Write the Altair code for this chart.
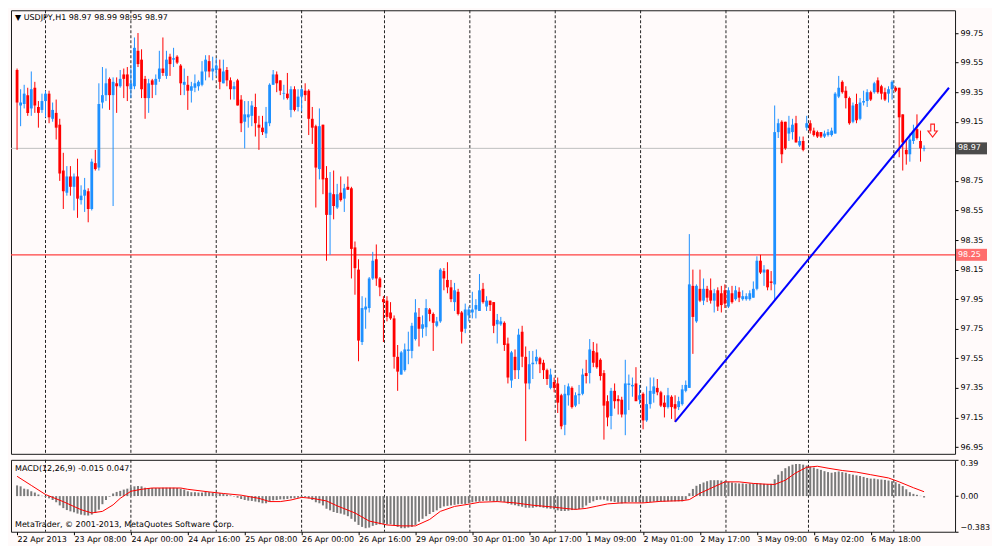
import altair as alt
import pandas as pd
import numpy as np

title_text = "▼ USDJPY,H1  98.97 98.99 98.95 98.97"
macd_text = "MACD(12,26,9) -0.015 0.047"
copyright_text = "MetaTrader, © 2001-2013, MetaQuotes Software Corp."

bar_open = [
    99.50, 99.26, 99.27, 99.33, 99.24, 99.38, 99.25, 99.23, 99.29, 99.34,
    99.17, 99.21, 99.13, 98.82, 98.67, 98.78, 98.71, 98.78, 98.62, 98.65,
    98.68, 98.56, 98.87, 98.84, 99.28, 99.33, 99.44, 99.33, 99.41, 99.39,
    99.47, 99.47, 99.37, 99.39, 99.63, 99.57, 99.44, 99.31, 99.43, 99.40,
    99.44, 99.51, 99.46, 99.59, 99.57, 99.59, 99.53, 99.40, 99.40, 99.36,
    99.38, 99.39, 99.40, 99.49, 99.56, 99.49, 99.50, 99.51, 99.41, 99.50,
    99.43, 99.37, 99.43, 99.30, 99.15, 99.18, 99.19, 99.25, 99.13, 99.11,
    99.07, 99.14, 99.40, 99.47, 99.43, 99.34, 99.34, 99.23, 99.37, 99.25,
    99.32, 99.36, 99.36, 99.17, 99.12, 98.83, 99.13, 98.77, 98.52, 98.66,
    98.57, 98.67, 98.63, 98.71, 98.70, 98.30, 98.15, 97.66, 97.88, 97.89,
    98.09, 98.22, 98.09, 97.95, 97.94, 97.86, 97.82, 97.56, 97.44, 97.47,
    97.60, 97.60, 97.68, 97.83, 97.75, 97.76, 97.88, 97.85, 97.77, 97.80,
    98.14, 98.08, 98.03, 97.93, 98.00, 97.86, 97.75, 97.84, 97.86, 97.88,
    97.87, 98.02, 97.90, 97.94, 97.93, 97.78, 97.78, 97.79, 97.65, 97.40,
    97.56, 97.47, 97.73, 97.56, 97.38, 97.51, 97.53, 97.55, 97.52, 97.47,
    97.35, 97.39, 97.38, 97.30, 97.10, 97.30, 97.35, 97.23, 97.30, 97.31,
    97.45, 97.45, 97.60, 97.59, 97.54, 97.45, 97.26, 97.16, 97.33, 97.275,
    97.27, 97.17, 97.37, 97.36, 97.38, 97.27, 97.31, 97.13, 97.24, 97.31,
    97.35, 97.32, 97.25, 97.22, 97.29, 97.24, 97.22, 97.24, 97.33, 97.35,
    98.04, 97.80, 98.02, 97.94, 98.02, 98.01, 97.94, 98.01, 97.99, 98.01,
    97.90, 97.99, 97.95, 98.00, 97.95, 97.95, 97.95, 97.96, 98.02, 98.21,
    98.13, 98.15, 98.07, 98.05, 99.08, 99.15, 99.15, 99.07, 99.08, 99.14,
    98.99, 99.02, 99.11, 99.14, 99.09, 99.08, 99.08, 99.05, 99.06, 99.06,
    99.07, 99.32, 99.42, 99.36, 99.31, 99.15, 99.27, 99.17, 99.28, 99.29,
    99.35, 99.35, 99.43, 99.39, 99.35, 99.34, 99.37, 99.38, 99.38, 99.20,
    98.96, 98.93, 99.02, 99.10, 99.02, 98.97,
]
bar_high = [
    99.51, 99.37, 99.40, 99.38, 99.49, 99.42, 99.29, 99.34, 99.36, 99.36,
    99.28, 99.30, 99.17, 98.94, 98.85, 98.85, 98.80, 98.90, 98.72, 98.77,
    98.70, 98.90, 98.96, 99.41, 99.52, 99.51, 99.45, 99.45, 99.45, 99.50,
    99.51, 99.52, 99.51, 99.72, 99.75, 99.64, 99.46, 99.44, 99.44, 99.47,
    99.63, 99.72, 99.63, 99.61, 99.65, 99.60, 99.54, 99.51, 99.46, 99.42,
    99.47, 99.43, 99.56, 99.60, 99.60, 99.59, 99.58, 99.57, 99.57, 99.52,
    99.45, 99.42, 99.44, 99.33, 99.29, 99.29, 99.29, 99.34, 99.19, 99.19,
    99.25, 99.41, 99.50, 99.49, 99.43, 99.40, 99.48, 99.39, 99.39, 99.37,
    99.38, 99.41, 99.37, 99.25, 99.13, 99.24, 99.13, 98.85, 98.81, 98.82,
    98.73, 98.78, 98.73, 98.78, 98.71, 98.34, 98.22, 97.97, 97.96, 98.10,
    98.27, 98.32, 98.10, 97.97, 97.97, 97.93, 97.84, 97.64, 97.60, 97.65,
    97.73, 97.79, 97.95, 97.89, 97.84, 97.95, 97.89, 97.86, 97.83, 98.16,
    98.16, 98.20, 98.08, 98.06, 98.02, 97.87, 97.92, 97.90, 98.00, 97.95,
    98.12, 98.06, 97.97, 97.94, 97.93, 97.85, 97.83, 97.80, 97.69, 97.60,
    97.61, 97.75, 97.77, 97.63, 97.60, 97.60, 97.61, 97.56, 97.54, 97.48,
    97.48, 97.42, 97.42, 97.31, 97.37, 97.38, 97.36, 97.32, 97.37, 97.48,
    97.54, 97.68, 97.66, 97.65, 97.55, 97.47, 97.30, 97.35, 97.38, 97.30,
    97.29, 97.54, 97.44, 97.42, 97.49, 97.37, 97.32, 97.36, 97.42, 97.42,
    97.41, 97.33, 97.30, 97.35, 97.30, 97.30, 97.29, 97.37, 97.40, 98.39,
    98.15, 98.05, 98.15, 98.09, 98.04, 98.09, 98.02, 98.03, 98.04, 98.05,
    98.03, 98.04, 98.04, 98.03, 98.01, 97.99, 98.01, 98.07, 98.24, 98.25,
    98.18, 98.15, 98.14, 99.26, 99.17, 99.16, 99.15, 99.19, 99.17, 99.19,
    99.05, 99.05, 99.19, 99.16, 99.11, 99.09, 99.08, 99.09, 99.10, 99.11,
    99.35, 99.46, 99.43, 99.39, 99.32, 99.28, 99.34, 99.31, 99.36, 99.37,
    99.36, 99.42, 99.45, 99.40, 99.38, 99.39, 99.43, 99.39, 99.38, 99.20,
    99.03, 99.07, 99.13, 99.20, 99.09, 98.99,
]
bar_low = [
    98.96, 99.12, 99.24, 99.19, 99.19, 99.21, 99.11, 99.21, 99.18, 99.14,
    99.15, 99.03, 98.75, 98.56, 98.65, 98.65, 98.55, 98.50, 98.59, 98.54,
    98.47, 98.55, 98.82, 98.82, 99.24, 99.29, 99.23, 98.58, 99.21, 99.38,
    99.31, 99.29, 99.31, 99.37, 99.52, 99.31, 99.17, 99.21, 99.31, 99.33,
    99.42, 99.46, 99.44, 99.46, 99.52, 99.54, 99.33, 99.33, 99.23, 99.28,
    99.35, 99.36, 99.39, 99.43, 99.45, 99.43, 99.46, 99.37, 99.41, 99.39,
    99.30, 99.30, 99.26, 99.08, 98.97, 99.11, 99.12, 99.05, 98.96, 99.06,
    99.04, 99.12, 99.40, 99.35, 99.33, 99.30, 99.30, 99.18, 99.22, 99.22,
    99.22, 99.29, 99.06, 99.00, 98.57, 98.76, 98.66, 98.21, 98.25, 98.49,
    98.56, 98.61, 98.54, 98.69, 98.09, 97.98, 97.53, 97.64, 97.75, 97.86,
    98.08, 98.04, 97.97, 97.66, 97.80, 97.81, 97.48, 97.33, 97.44, 97.46,
    97.51, 97.55, 97.67, 97.63, 97.69, 97.70, 97.80, 97.60, 97.76, 97.79,
    98.01, 97.99, 97.93, 97.87, 97.84, 97.65, 97.72, 97.80, 97.82, 97.82,
    97.87, 97.92, 97.87, 97.87, 97.72, 97.65, 97.77, 97.60, 97.38, 97.35,
    97.41, 97.41, 97.49, 96.99, 97.34, 97.41, 97.51, 97.45, 97.41, 97.37,
    97.34, 97.32, 97.18, 97.07, 97.03, 97.23, 97.21, 97.22, 97.24, 97.30,
    97.38, 97.38, 97.49, 97.48, 97.40, 97.00, 97.09, 97.07, 97.21, 97.17,
    97.15, 97.03, 97.20, 97.29, 97.26, 97.24, 97.07, 97.12, 97.21, 97.25,
    97.30, 97.22, 97.15, 97.21, 97.14, 97.12, 97.20, 97.23, 97.32, 97.35,
    97.58, 97.79, 97.93, 97.91, 97.93, 97.92, 97.86, 97.87, 97.86, 97.89,
    97.89, 97.92, 97.94, 97.93, 97.94, 97.94, 97.94, 97.96, 98.01, 98.12,
    98.04, 98.01, 98.01, 97.94, 99.04, 98.87, 98.96, 99.02, 99.03, 99.01,
    98.98, 98.95, 99.09, 99.07, 99.05, 99.04, 99.04, 99.04, 99.05, 99.05,
    99.07, 99.31, 99.34, 99.24, 99.13, 99.14, 99.14, 99.16, 99.26, 99.25,
    99.29, 99.34, 99.34, 99.30, 99.29, 99.28, 99.30, 99.35, 98.91, 98.82,
    98.86, 98.88, 99.00, 99.03, 98.88, 98.95,
]
bar_close = [
    99.28, 99.28, 99.34, 99.21, 99.37, 99.26, 99.21, 99.29, 99.34, 99.18,
    99.23, 99.11, 98.80, 98.68, 98.78, 98.71, 98.78, 98.63, 98.65, 98.69,
    98.56, 98.88, 98.83, 99.27, 99.33, 99.41, 99.33, 99.42, 99.39, 99.44,
    99.44, 99.39, 99.41, 99.65, 99.54, 99.37, 99.31, 99.41, 99.40, 99.44,
    99.51, 99.48, 99.57, 99.54, 99.58, 99.55, 99.41, 99.42, 99.36, 99.39,
    99.41, 99.42, 99.49, 99.57, 99.49, 99.51, 99.53, 99.42, 99.49, 99.43,
    99.37, 99.39, 99.26, 99.14, 99.20, 99.20, 99.26, 99.14, 99.11, 99.08,
    99.15, 99.40, 99.47, 99.41, 99.36, 99.345, 99.31, 99.37, 99.23, 99.32,
    99.37, 99.33, 99.17, 99.11, 98.84, 99.12, 98.76, 98.52, 98.67, 98.58,
    98.66, 98.62, 98.70, 98.69, 98.29, 98.16, 97.67, 97.89, 97.90, 98.09,
    98.21, 98.09, 98.03, 97.93, 97.83, 97.82, 97.56, 97.46, 97.59, 97.61,
    97.61, 97.77, 97.86, 97.75, 97.78, 97.89, 97.85, 97.79, 97.80, 98.15,
    98.09, 98.03, 97.95, 98.01, 97.85, 97.73, 97.88, 97.88, 97.88, 97.91,
    98.01, 97.93, 97.94, 97.91, 97.77, 97.81, 97.80, 97.64, 97.42, 97.59,
    97.47, 97.71, 97.56, 97.38, 97.51, 97.52, 97.56, 97.51, 97.47, 97.41,
    97.44, 97.35, 97.25, 97.09, 97.31, 97.36, 97.22, 97.30, 97.31, 97.44,
    97.43, 97.61, 97.52, 97.49, 97.43, 97.23, 97.15, 97.33, 97.26, 97.26,
    97.17, 97.38, 97.38, 97.37, 97.26, 97.30, 97.13, 97.24, 97.33, 97.36,
    97.32, 97.23, 97.22, 97.30, 97.22, 97.21, 97.26, 97.34, 97.37, 98.05,
    97.83, 98.04, 97.94, 98.02, 97.96, 97.94, 97.99, 97.90, 97.91, 97.92,
    98.01, 97.93, 98.01, 97.96, 97.97, 97.97, 97.99, 98.02, 98.21, 98.13,
    98.15, 98.03, 98.06, 99.08, 99.14, 98.93, 98.97, 99.11, 99.13, 99.01,
    99.02, 98.96, 99.14, 99.09, 99.06, 99.05, 99.05, 99.07, 99.08, 99.09,
    99.34, 99.38, 99.35, 99.31, 99.14, 99.26, 99.16, 99.28, 99.29, 99.35,
    99.30, 99.41, 99.35, 99.34, 99.30, 99.37, 99.42, 99.36, 99.18, 99.01,
    98.93, 99.03, 99.09, 99.04, 98.97, 98.97,
]

macd_hist = [
    0.115, 0.105, 0.08, 0.073, 0.052, 0.038, 0.017, 0.003, -0.01, -0.024,
    -0.042, -0.066, -0.10, -0.129, -0.15, -0.164, -0.174, -0.188, -0.199, -0.206,
    -0.209, -0.199, -0.181, -0.146, -0.087, -0.042, -0.007, 0.028, 0.045, 0.056,
    0.07, 0.08, 0.094, 0.105, 0.108, 0.105, 0.09, 0.087, 0.087, 0.087,
    0.087, 0.09, 0.09, 0.09, 0.09, 0.087, 0.08, 0.07, 0.052, 0.042,
    0.042, 0.038, 0.038, 0.045, 0.042, 0.035, 0.031, 0.031, 0.024, 0.017,
    0.007, -0.004, -0.017, -0.031, -0.042, -0.049, -0.052, -0.059, -0.066, -0.077,
    -0.077, -0.059, -0.045, -0.042, -0.035, -0.035, -0.031, -0.024, -0.024, -0.017,
    -0.01, -0.01, -0.024, -0.042, -0.066, -0.077, -0.10, -0.136, -0.153, -0.171,
    -0.181, -0.188, -0.199, -0.216, -0.244, -0.275, -0.31, -0.331, -0.345, -0.338,
    -0.32, -0.31, -0.303, -0.303, -0.303, -0.303, -0.314, -0.331, -0.345, -0.345,
    -0.338, -0.331, -0.31, -0.275, -0.244, -0.216, -0.192, -0.171, -0.153, -0.129,
    -0.111, -0.105, -0.10, -0.094, -0.087, -0.084, -0.084, -0.077, -0.066, -0.059,
    -0.059, -0.052, -0.049, -0.052, -0.059, -0.059, -0.056, -0.063, -0.08, -0.091,
    -0.098, -0.108, -0.115, -0.125, -0.125, -0.125, -0.118, -0.118, -0.125, -0.132,
    -0.136, -0.143, -0.153, -0.16, -0.16, -0.157, -0.15, -0.146, -0.139, -0.125,
    -0.101, -0.073, -0.056, -0.042, -0.038, -0.038, -0.049, -0.056, -0.063, -0.07,
    -0.08, -0.073, -0.063, -0.063, -0.066, -0.066, -0.07, -0.066, -0.063, -0.059,
    -0.059, -0.059, -0.059, -0.056, -0.056, -0.056, -0.056, -0.056, -0.038, 0.031,
    0.077, 0.111, 0.129, 0.146, 0.16, 0.171, 0.171, 0.171, 0.167, 0.16,
    0.153, 0.146, 0.139, 0.136, 0.136, 0.132, 0.136, 0.136, 0.139, 0.136,
    0.132, 0.129, 0.132, 0.181, 0.23, 0.268, 0.30, 0.321, 0.338, 0.345,
    0.345, 0.338, 0.328, 0.317, 0.307, 0.293, 0.282, 0.268, 0.258, 0.251,
    0.258, 0.265, 0.258, 0.251, 0.237, 0.23, 0.223, 0.216, 0.206, 0.195,
    0.188, 0.188, 0.181, 0.178, 0.174, 0.167, 0.16, 0.15, 0.132, 0.108,
    0.073, 0.042, 0.024, 0.014, 0.003, -0.015,
]

signal_bars = [0, 4, 8, 13, 18, 21, 24, 27, 29, 32, 35, 38, 46, 48, 54, 58, 63, 68,
               71, 74, 77, 80, 83, 87, 90, 95, 99, 104, 108, 112, 116, 119, 123, 127,
               130, 135, 140, 145, 150, 154, 157, 160, 163, 166, 170, 176, 181, 187,
               189, 192, 196, 199, 203, 207, 210, 213, 216, 219, 222, 225, 228, 232,
               236, 240, 245, 248, 252, 255]
signal_vals = [0.213, 0.115, 0.017, -0.06, -0.146, -0.181, -0.164, -0.094, -0.024,
               0.052, 0.073, 0.087, 0.087, 0.073, 0.045, 0.028, 0.01, -0.024,
               -0.059, -0.059, -0.042, -0.014, -0.024, -0.052, -0.105, -0.181,
               -0.268, -0.31, -0.32, -0.32, -0.251, -0.164, -0.111, -0.087,
               -0.066, -0.059, -0.073, -0.098, -0.115, -0.132, -0.143, -0.132,
               -0.108, -0.084, -0.073, -0.073, -0.056, -0.049, -0.038, 0.031,
               0.101, 0.153, 0.153, 0.136, 0.129, 0.125, 0.171, 0.251, 0.31,
               0.321, 0.30, 0.275, 0.258, 0.23, 0.195, 0.153, 0.09, 0.047]

grid_bars = [8, 32, 56, 80, 103.3, 127.3, 151.3, 175.3, 199.3, 222.5, 246.5]
tick_bars = [0, 16, 32, 48, 64, 80, 96, 112, 128, 144, 160, 176, 192, 208, 224, 240]
tick_labels = ["22 Apr 2013", "23 Apr 08:00", "24 Apr 00:00", "24 Apr 16:00",
               "25 Apr 08:00", "26 Apr 00:00", "26 Apr 16:00", "29 Apr 09:00",
               "30 Apr 01:00", "30 Apr 17:00", "1 May 09:00", "2 May 01:00",
               "2 May 17:00", "3 May 09:00", "6 May 02:00", "6 May 18:00"]
price_ticks = [96.95, 97.15, 97.35, 97.55, 97.75, 97.95, 98.15, 98.35, 98.55,
               98.75, 99.15, 99.35, 99.55, 99.75]
macd_ticks = [-0.383, 0.0, 0.39]
trend_bars = [185, 262]
trend_prices = [97.12, 99.38]
bid_price = 98.97
level_price = 98.25
arrow_bar = [257.4]
arrow_price = [99.09]

FONT = "DejaVu Sans"
W = 945
H1 = 444
H2 = 72
BG = "#FFFAFA"
ARROW_PATH = ("M -0.28 -1 L 0.28 -1 L 0.28 0.05 L 0.72 0.05 L 0 1 "
              "L -0.72 0.05 L -0.28 0.05 Z")

n = len(bar_close)
df = pd.DataFrame({"bar": np.arange(n), "o": bar_open[:n], "h": bar_high[:n],
                   "l": bar_low[:n], "c": bar_close[:n]})
df["dir"] = np.where(df["c"] >= df["o"], "up", "down")
eq = (df["c"] == df["o"]).astype(float) * 0.003
df["b_lo"] = df[["o", "c"]].min(axis=1) - eq
df["b_hi"] = df[["o", "c"]].max(axis=1) + eq

x_scale = alt.Scale(domain=[-0.3, 262.3], nice=False, zero=False)
price_scale = alt.Scale(domain=[96.904, 99.904], nice=False, zero=False)
macd_scale = alt.Scale(domain=[-0.383, 0.39], nice=False, zero=False)

price_axis = alt.Axis(orient="right", values=price_ticks, format=".2f", tickSize=3,
                      labelPadding=2, domain=False, title=None, grid=False)
tick_expr = ("[" + ",".join("'%s'" % s for s in tick_labels) + "][indexof(["
             + ",".join(str(b) for b in tick_bars) + "], datum.value)]")
x_axis = alt.Axis(values=tick_bars, labelExpr=tick_expr, labelAlign="left",
                  labelBaseline="top", tickSize=3, labelPadding=1, domain=False,
                  title=None, grid=False, labelFlush=False, labelOverlap=False)
macd_axis = alt.Axis(orient="right", values=macd_ticks,
                     labelExpr="datum.value == 0 ? '0.00' : format(datum.value, '.3~f')",
                     tickSize=3, labelPadding=2, domain=False, title=None, grid=False,
                     labelFlush=True)


def X(field):
    return alt.X(field, type="quantitative", scale=x_scale, axis=None)


def XM(field):
    return alt.X(field, type="quantitative", scale=x_scale, axis=x_axis)


def PY(field):
    return alt.Y(field, type="quantitative", scale=price_scale, axis=price_axis)


def MY(field):
    return alt.Y(field, type="quantitative", scale=macd_scale, axis=macd_axis)


col = alt.Color("dir:N", scale=alt.Scale(domain=["up", "down"],
                                         range=["#1E90FF", "#FF0000"]), legend=None)

grid_df = pd.DataFrame({"g": grid_bars})
grid_main = alt.Chart(grid_df).mark_rule(color="#222222", strokeDash=[3, 2],
                                         strokeWidth=1).encode(x=X("g"))
bid_line = alt.Chart(pd.DataFrame({"p": [bid_price]})).mark_rule(
    color="#C0C0C0", strokeWidth=1).encode(y=PY("p"))
red_line = alt.Chart(pd.DataFrame({"p": [level_price]})).mark_rule(
    color="#FF4040", strokeWidth=1.3).encode(y=PY("p"))
wicks = alt.Chart(df).mark_rule(strokeWidth=1).encode(x=X("bar"), y=PY("l"), y2="h",
                                                       color=col)
bodies = alt.Chart(df).mark_bar(size=2.8).encode(x=X("bar"), y=PY("b_lo"), y2="b_hi",
                                                  color=col)
trend = alt.Chart(pd.DataFrame({"tb": trend_bars, "tp": trend_prices})).mark_line(
    color="#0000FF", strokeWidth=2, clip=True).encode(x=X("tb"), y=PY("tp"))
arrow = alt.Chart(pd.DataFrame({"b": arrow_bar, "p": arrow_price})).mark_point(
    shape=ARROW_PATH, size=170, filled=False, stroke="#FF2020", strokeWidth=1.1,
    opacity=1).encode(x=X("b"), y=PY("p"))
title = alt.Chart(pd.DataFrame({"t": [title_text]})).mark_text(
    align="left", baseline="middle", font=FONT, fontSize=8, color="#000000").encode(
    x=alt.value(4), y=alt.value(8), text="t:N")
box_df = pd.DataFrame({"p": [bid_price, level_price],
                       "lab": ["%.2f" % bid_price, "%.2f" % level_price],
                       "col": ["#000000", "#FF3030"]})
boxes = alt.Chart(box_df).mark_tick(size=31, thickness=12, orient="horizontal").encode(
    x=alt.value(W + 16.5), y=PY("p"), color=alt.Color("col:N", scale=None))
box_text = alt.Chart(box_df).mark_text(align="left", baseline="middle", color="white",
                                       font=FONT, fontSize=8).encode(
    x=alt.value(W + 3), y=PY("p"), text="lab:N")

main = alt.layer(grid_main, bid_line, red_line, wicks, bodies, trend, arrow, title,
                 boxes, box_text).properties(width=W, height=H1)

mdf = pd.DataFrame({"bar": np.arange(len(macd_hist)), "m": macd_hist})
sdf = pd.DataFrame({"sb": signal_bars, "sv": signal_vals})
grid_macd = alt.Chart(grid_df).mark_rule(color="#222222", strokeDash=[3, 2],
                                         strokeWidth=1).encode(x=XM("g"))
hist = alt.Chart(mdf).mark_bar(size=2, color="#7A7A7A").encode(
    x=XM("bar"), y=MY("m"), y2=alt.datum(0))
signal = alt.Chart(sdf).mark_line(color="#FF0000", strokeWidth=1).encode(
    x=XM("sb"), y=MY("sv"))
macd_label = alt.Chart(pd.DataFrame({"t": [macd_text]})).mark_text(
    align="left", baseline="middle", font=FONT, fontSize=8, color="#000000").encode(
    x=alt.value(4), y=alt.value(9), text="t:N")
copy_label = alt.Chart(pd.DataFrame({"t": [copyright_text]})).mark_text(
    align="left", baseline="middle", font=FONT, fontSize=8, color="#000000").encode(
    x=alt.value(4), y=alt.value(H2 - 7), text="t:N")

macd = alt.layer(grid_macd, hist, signal, macd_label, copy_label).properties(
    width=W, height=H2)

chart = alt.vconcat(main, macd, spacing=4).resolve_scale(y="independent").properties(
    padding={"left": 1, "top": 1, "right": 1, "bottom": 1}, background=BG
).configure_view(stroke="#1A1A1A", strokeWidth=1, fill=BG).configure_axis(
    labelFont=FONT, labelFontSize=8, labelColor="#000000", tickColor="#000000")

chart.save("out.html", embed_options={"renderer": "svg", "actions": False})
